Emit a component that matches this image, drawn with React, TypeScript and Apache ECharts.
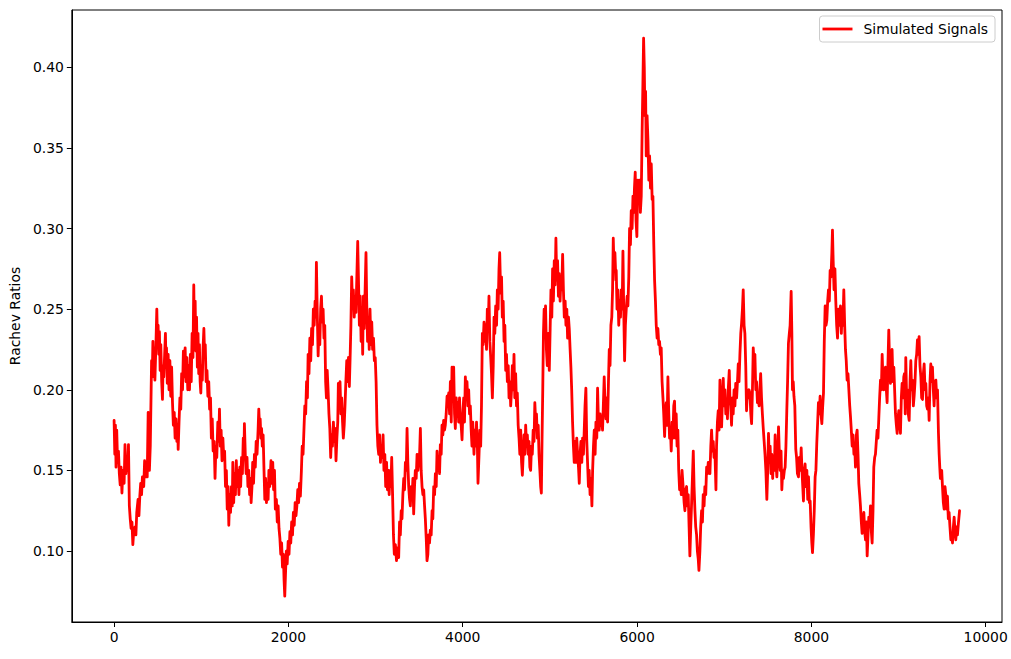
import React, { useEffect, useRef } from "react";
import * as echarts from "echarts";

const xTicks = [0, 2000, 4000, 6000, 8000, 10000];
const yTicks = [0.1, 0.15, 0.2, 0.25, 0.3, 0.35, 0.4];
const seriesName = "Simulated Signals";
const yAxisName = "Rachev Ratios";

const seg1: [number, number][] = [
  [0,0.181],[8,0.160],[15,0.178],[22,0.152],[30,0.175],[40,0.155],[50,0.162],[60,0.148],[70,0.141],[80,0.152],
  [90,0.136],[100,0.150],[115,0.142],[125,0.166],[135,0.148],[145,0.158],[155,0.150],[165,0.166],[175,0.128],[185,0.120],
  [195,0.114],[205,0.118],[215,0.104],[225,0.112],[240,0.115],[250,0.110],[260,0.124],[275,0.132],[285,0.122],[295,0.134],
  [305,0.142],[315,0.135],[325,0.146],[340,0.140],[350,0.156],[360,0.146],[370,0.155],[380,0.146],[391,0.186],[398,0.160],
  [405,0.150],[415,0.165],[425,0.200],[430,0.218],[438,0.208],[445,0.230],[452,0.214],[460,0.226],[468,0.206],[480,0.228],
  [490,0.250],[497,0.232],[505,0.240],[512,0.222],[520,0.236],[528,0.212],[536,0.228],[546,0.205],[555,0.194],[562,0.215],
  [570,0.208],[580,0.222],[589,0.235],[596,0.214],[601,0.226],[610,0.204],[620,0.222],[630,0.200],[640,0.218],[650,0.196],
  [660,0.214],[670,0.192],[680,0.178],[690,0.186],[700,0.170],[710,0.182],[720,0.168],[730,0.176],[735,0.163],[745,0.180],
  [755,0.195],[765,0.188],[775,0.210],[785,0.200],[795,0.224],
];
const seg2: [number, number][] = [
  [805,0.208],[815,0.226],[825,0.205],[835,0.220],[845,0.200],[855,0.215],[865,0.200],[875,0.222],[885,0.205],[895,0.235],
  [905,0.220],[914,0.265],[922,0.232],[930,0.255],[938,0.224],[946,0.245],[955,0.214],[963,0.235],[971,0.210],[979,0.228],
  [987,0.205],[995,0.198],[1003,0.215],[1012,0.206],[1020,0.225],[1030,0.238],[1038,0.222],[1046,0.228],[1056,0.205],[1066,0.212],
  [1076,0.196],[1086,0.205],[1096,0.188],[1106,0.195],[1116,0.170],[1126,0.182],[1136,0.162],[1148,0.168],[1158,0.145],[1168,0.165],
  [1178,0.158],[1190,0.180],[1200,0.168],[1209,0.188],[1218,0.165],[1228,0.175],[1238,0.156],[1248,0.170],[1258,0.158],[1268,0.162],
  [1278,0.140],[1288,0.150],[1298,0.126],[1308,0.140],[1316,0.116],[1326,0.135],[1336,0.124],[1346,0.140],[1356,0.128],[1362,0.155],
  [1372,0.130],[1382,0.148],[1392,0.135],[1402,0.156],[1412,0.140],[1422,0.150],[1432,0.135],[1442,0.152],[1452,0.140],[1462,0.158],
  [1472,0.148],[1482,0.170],[1490,0.160],[1495,0.179],[1505,0.160],[1515,0.148],[1525,0.158],[1535,0.140],[1545,0.150],[1555,0.135],
  [1565,0.145],[1572,0.130],
];
const seg3: [number, number][] = [
  [1582,0.140],[1590,0.155],[1600,0.142],[1610,0.160],[1620,0.152],[1630,0.168],[1640,0.160],[1652,0.175],[1660,0.188],[1668,0.178],
  [1676,0.182],[1684,0.170],[1692,0.176],[1700,0.165],[1710,0.172],[1720,0.150],[1729,0.132],[1738,0.145],[1748,0.130],[1758,0.142],
  [1767,0.132],[1776,0.150],[1786,0.140],[1800,0.156],[1810,0.142],[1820,0.155],[1830,0.138],[1840,0.150],[1850,0.126],[1862,0.132],
  [1872,0.118],[1882,0.128],[1892,0.114],[1902,0.108],[1912,0.098],[1922,0.105],[1932,0.090],[1942,0.098],[1950,0.082],[1958,0.072],
  [1966,0.085],[1976,0.100],[1986,0.092],[1997,0.106],[2007,0.098],[2017,0.112],[2027,0.105],[2037,0.118],[2047,0.110],[2057,0.124],
  [2067,0.116],[2077,0.130],[2087,0.122],[2097,0.128],[2107,0.138],[2117,0.130],[2127,0.142],[2137,0.134],[2149,0.150],[2158,0.165],
  [2168,0.160],[2178,0.175],[2188,0.190],[2198,0.185],[2208,0.205],[2218,0.195],[2226,0.222],[2236,0.210],[2246,0.232],[2256,0.218],
  [2266,0.238],[2276,0.228],[2286,0.250],[2296,0.240],[2306,0.255],[2314,0.245],[2321,0.279],[2330,0.250],[2341,0.221],[2350,0.238],
  [2360,0.228],[2370,0.250],[2379,0.258],[2388,0.242],[2398,0.250],[2408,0.232],[2417,0.240],[2427,0.205],[2436,0.195],[2445,0.212],
  [2455,0.200],
];
const seg4: [number, number][] = [
  [2465,0.185],[2475,0.176],[2485,0.158],[2495,0.172],[2505,0.165],[2516,0.180],[2526,0.168],[2536,0.176],[2546,0.156],[2556,0.170],
  [2566,0.180],[2573,0.204],[2582,0.195],[2592,0.205],[2602,0.185],[2611,0.195],[2621,0.180],[2630,0.170],[2640,0.178],[2649,0.190],
  [2659,0.205],[2669,0.218],[2679,0.205],[2689,0.220],[2699,0.202],[2707,0.218],[2717,0.240],[2726,0.270],[2736,0.252],[2745,0.262],
  [2755,0.245],[2765,0.258],[2775,0.248],[2785,0.270],[2795,0.292],[2805,0.265],[2814,0.240],[2824,0.258],[2834,0.230],[2844,0.250],
  [2852,0.222],[2860,0.258],[2870,0.238],[2880,0.262],[2890,0.285],[2898,0.255],[2908,0.230],[2917,0.245],[2927,0.225],[2936,0.250],
  [2946,0.228],[2956,0.242],[2966,0.225],[2976,0.232],[2986,0.218],[2996,0.220],[3006,0.205],[3016,0.178],[3026,0.165],[3036,0.160],
  [3046,0.172],[3056,0.155],[3066,0.165],[3076,0.158],[3086,0.172],[3096,0.150],[3106,0.160],[3116,0.140],[3126,0.155],[3136,0.138],
  [3146,0.150],[3156,0.135],[3166,0.150],[3176,0.140],[3185,0.158],[3195,0.135],
];
const seg5: [number, number][] = [
  [3205,0.110],[3215,0.098],[3227,0.104],[3240,0.094],[3252,0.102],[3265,0.096],[3275,0.118],[3284,0.110],[3294,0.125],[3303,0.120],
  [3313,0.135],[3323,0.145],[3332,0.138],[3342,0.155],[3352,0.150],[3361,0.176],[3370,0.155],[3380,0.140],[3390,0.132],[3399,0.128],
  [3409,0.140],[3418,0.132],[3428,0.145],[3437,0.123],[3447,0.140],[3456,0.150],[3466,0.145],[3476,0.160],[3486,0.150],[3495,0.155],
  [3505,0.160],[3514,0.176],[3523,0.150],[3533,0.140],[3543,0.135],[3552,0.138],[3562,0.128],[3571,0.120],[3581,0.108],[3590,0.094],
  [3600,0.098],[3609,0.110],[3619,0.105],[3628,0.113],[3638,0.110],[3648,0.125],[3657,0.120],[3667,0.140],[3677,0.135],[3686,0.148],
  [3696,0.140],[3705,0.162],[3715,0.150],[3724,0.158],[3734,0.148],[3743,0.166],[3753,0.160],[3762,0.178],[3772,0.172],[3781,0.181],
  [3791,0.175],[3800,0.178],[3810,0.185],[3820,0.196],[3830,0.190],[3839,0.198],[3849,0.185],[3858,0.205],[3868,0.180],[3877,0.214],
  [3887,0.195],[3896,0.214],[3906,0.185],[3915,0.176],[3925,0.195],[3934,0.185],[3944,0.192],[3953,0.180],[3963,0.195],[3972,0.182],
  [3982,0.178],[3992,0.169],[4001,0.185],[4011,0.195],[4020,0.180],[4030,0.208],[4040,0.195],[4049,0.205],[4059,0.190],[4068,0.200],
  [4078,0.185],[4087,0.190],[4097,0.175],[4106,0.165],
];
const seg6: [number, number][] = [
  [4115,0.180],[4129,0.160],[4139,0.175],[4149,0.165],[4158,0.180],[4168,0.165],[4175,0.142],[4187,0.160],[4196,0.175],[4206,0.165],
  [4215,0.190],[4225,0.235],[4234,0.228],[4244,0.242],[4254,0.230],[4263,0.240],[4273,0.225],[4282,0.250],[4291,0.236],[4301,0.258],
  [4311,0.230],[4321,0.220],[4330,0.210],[4340,0.195],[4350,0.215],[4359,0.245],[4368,0.235],[4378,0.252],[4388,0.240],[4397,0.262],
  [4406,0.250],[4416,0.275],[4424,0.285],[4435,0.260],[4445,0.270],[4454,0.245],[4464,0.255],[4474,0.230],[4483,0.240],[4493,0.212],
  [4502,0.222],[4512,0.205],[4522,0.215],[4531,0.195],[4541,0.205],[4550,0.190],[4560,0.200],[4569,0.215],[4579,0.200],[4588,0.222],
  [4597,0.195],[4607,0.210],[4617,0.190],[4626,0.198],[4636,0.178],[4646,0.170],[4655,0.160],[4665,0.175],[4675,0.155],[4684,0.147],
  [4694,0.160],[4703,0.172],[4713,0.160],[4722,0.178],[4732,0.165],[4741,0.172],[4751,0.160],[4760,0.168],[4770,0.152],[4779,0.150],
  [4789,0.165],[4798,0.160],[4808,0.175],[4818,0.168],[4827,0.192],[4837,0.180],[4846,0.185],[4856,0.170],[4866,0.178],[4875,0.160],
  [4885,0.150],[4894,0.140],[4902,0.136],[4910,0.170],[4918,0.200],[4926,0.235],[4934,0.250],[4942,0.240],
];
const seg7: [number, number][] = [
  [4950,0.252],[4960,0.225],[4970,0.215],[4980,0.235],[4993,0.212],[5003,0.238],[5012,0.262],[5022,0.245],[5031,0.275],[5040,0.255],
  [5050,0.280],[5060,0.265],[5069,0.294],[5078,0.268],[5088,0.280],[5098,0.258],[5107,0.272],[5117,0.255],[5126,0.268],[5136,0.262],
  [5146,0.284],[5155,0.262],[5165,0.245],[5175,0.255],[5184,0.240],[5194,0.250],[5203,0.232],[5213,0.245],[5222,0.238],[5232,0.225],
  [5241,0.214],[5250,0.200],[5260,0.180],[5270,0.165],[5279,0.155],[5289,0.168],[5299,0.155],[5308,0.170],[5318,0.160],[5328,0.152],
  [5337,0.142],[5346,0.160],[5356,0.168],[5366,0.155],[5375,0.170],[5385,0.160],[5394,0.175],[5403,0.190],[5413,0.201],[5422,0.170],
  [5432,0.155],[5442,0.140],[5451,0.150],[5461,0.135],[5471,0.145],[5482,0.128],[5490,0.150],[5500,0.165],[5509,0.175],[5519,0.160],
  [5528,0.180],[5538,0.170],[5547,0.201],[5557,0.180],[5566,0.175],[5576,0.185],[5585,0.178],[5595,0.182],[5604,0.175],[5613,0.190],
  [5623,0.208],[5633,0.190],[5643,0.182],[5652,0.195],[5662,0.180],[5672,0.205],[5681,0.225],[5690,0.215],[5700,0.240],[5710,0.245],
  [5719,0.262],[5727,0.294],[5736,0.275],[5746,0.285],[5757,0.268],
];
const seg8: [number, number][] = [
  [5761,0.274],[5770,0.250],[5780,0.262],[5790,0.240],[5800,0.255],[5810,0.245],[5819,0.262],[5829,0.250],[5838,0.286],[5847,0.250],
  [5857,0.218],[5866,0.240],[5876,0.250],[5886,0.258],[5895,0.252],[5905,0.270],[5914,0.300],[5924,0.290],[5933,0.311],[5943,0.300],
  [5953,0.320],[5962,0.310],[5970,0.325],[5979,0.335],[5988,0.305],[5998,0.295],[6008,0.330],[6018,0.318],[6029,0.330],[6038,0.310],
  [6048,0.320],[6058,0.360],[6067,0.390],[6075,0.418],[6083,0.400],[6090,0.370],[6098,0.385],[6105,0.345],[6115,0.370],[6125,0.355],
  [6135,0.330],[6144,0.345],[6154,0.325],[6163,0.340],[6173,0.318],[6182,0.320],[6192,0.290],[6201,0.268],[6211,0.255],[6220,0.240],
  [6230,0.232],[6239,0.238],[6249,0.228],[6258,0.230],[6268,0.222],[6277,0.226],[6287,0.205],[6297,0.195],[6306,0.185],[6316,0.171],
  [6325,0.185],[6335,0.192],[6344,0.178],[6354,0.208],[6364,0.185],[6373,0.170],[6383,0.175],[6392,0.162],[6402,0.180],[6411,0.170],
  [6421,0.190],[6430,0.193],[6440,0.170],[6449,0.185],[6459,0.165],[6468,0.175],[6478,0.150],[6488,0.138],[6497,0.145],[6507,0.135],
  [6516,0.150],[6526,0.142],
];
const seg9: [number, number][] = [
  [6540,0.130],[6549,0.125],[6558,0.138],[6568,0.140],[6578,0.128],[6587,0.135],[6597,0.115],[6606,0.097],[6616,0.115],[6626,0.130],
  [6635,0.145],[6645,0.162],[6654,0.140],[6664,0.125],[6673,0.115],[6683,0.110],[6692,0.100],[6702,0.095],[6710,0.088],[6721,0.100],
  [6730,0.115],[6740,0.125],[6750,0.118],[6759,0.135],[6769,0.128],[6778,0.140],[6788,0.135],[6798,0.152],[6808,0.148],[6817,0.155],
  [6827,0.150],[6836,0.148],[6846,0.165],[6855,0.175],[6865,0.162],[6874,0.168],[6883,0.158],[6893,0.162],[6905,0.138],[6912,0.165],
  [6922,0.180],[6931,0.187],[6941,0.175],[6951,0.206],[6960,0.190],[6970,0.177],[6980,0.195],[6989,0.207],[6998,0.190],[7008,0.200],
  [7018,0.185],[7027,0.194],[7037,0.182],[7046,0.200],[7058,0.212],[7065,0.195],[7075,0.190],[7084,0.178],[7094,0.195],[7103,0.185],
  [7113,0.200],[7123,0.190],[7132,0.204],[7142,0.195],[7152,0.205],[7161,0.216],[7170,0.205],[7180,0.222],[7190,0.235],[7199,0.241],
  [7209,0.250],[7218,0.262],[7228,0.240],[7237,0.235],[7247,0.215],[7256,0.187],[7266,0.200],[7275,0.195],[7285,0.200],[7295,0.198],
  [7305,0.185],[7314,0.179],[7324,0.200],[7333,0.226],[7343,0.215],[7352,0.222],[7362,0.200],[7371,0.205],[7381,0.192],[7390,0.195],
  [7400,0.190],[7409,0.200],
];
const seg10: [number, number][] = [
  [7418,0.210],[7428,0.195],[7438,0.185],[7448,0.176],[7458,0.168],[7468,0.160],[7478,0.150],[7489,0.132],[7499,0.150],[7508,0.173],
  [7518,0.155],[7527,0.165],[7537,0.148],[7546,0.160],[7556,0.145],[7565,0.158],[7575,0.150],[7584,0.172],[7594,0.155],[7604,0.146],
  [7614,0.160],[7623,0.177],[7633,0.160],[7642,0.150],[7652,0.162],[7661,0.138],[7671,0.150],[7680,0.145],[7690,0.150],[7699,0.152],
  [7708,0.165],[7718,0.187],[7727,0.205],[7737,0.229],[7747,0.235],[7756,0.240],[7768,0.261],[7776,0.235],[7783,0.200],[7792,0.205],
  [7800,0.196],[7810,0.190],[7821,0.163],[7830,0.158],[7840,0.148],[7852,0.146],[7862,0.158],[7872,0.150],[7883,0.164],[7892,0.150],
  [7901,0.140],[7909,0.131],[7919,0.150],[7928,0.154],[7938,0.140],[7948,0.150],[7958,0.132],[7967,0.146],[7977,0.130],[7986,0.131],
  [7996,0.115],[8005,0.105],[8013,0.099],[8023,0.110],[8033,0.125],[8043,0.146],[8052,0.150],[8062,0.167],[8072,0.180],[8081,0.192],
  [8091,0.185],[8100,0.196],[8110,0.185],[8120,0.179],[8130,0.190],[8139,0.198],[8148,0.230],[8158,0.252],[8168,0.240],[8177,0.243],
  [8187,0.255],[8196,0.262],[8206,0.255],[8215,0.274],[8225,0.270],[8235,0.285],[8242,0.299],
];
const seg11: [number, number][] = [
  [8250,0.280],[8260,0.262],[8270,0.275],[8280,0.255],[8290,0.240],[8300,0.232],[8310,0.250],[8320,0.240],[8334,0.252],[8344,0.235],
  [8353,0.250],[8362,0.240],[8372,0.262],[8382,0.240],[8391,0.225],[8400,0.218],[8410,0.206],[8420,0.210],[8430,0.200],[8440,0.190],
  [8449,0.183],[8458,0.175],[8468,0.165],[8478,0.172],[8488,0.160],[8497,0.165],[8506,0.152],[8516,0.172],[8525,0.175],[8535,0.160],
  [8544,0.142],[8554,0.135],[8563,0.128],[8573,0.118],[8582,0.111],[8592,0.120],[8602,0.124],[8612,0.112],[8621,0.107],[8631,0.118],
  [8640,0.097],[8650,0.110],[8659,0.121],[8669,0.115],[8678,0.128],[8688,0.112],[8697,0.105],[8707,0.125],[8716,0.152],[8726,0.158],
  [8735,0.160],[8745,0.168],[8754,0.175],[8764,0.170],[8774,0.183],[8783,0.195],[8793,0.206],[8803,0.200],[8812,0.222],[8822,0.205],
  [8831,0.200],[8840,0.210],[8850,0.214],[8860,0.200],[8869,0.192],[8878,0.215],[8888,0.237],[8898,0.215],[8907,0.204],[8917,0.220],
  [8926,0.225],[8936,0.205],[8946,0.214],[8955,0.200],[8965,0.185],[8975,0.178],[8984,0.173],[8994,0.182],[9003,0.187],[9013,0.180],
  [9022,0.173],[9032,0.195],[9041,0.204],[9051,0.195],[9060,0.208],[9068,0.210],
];
const seg12: [number, number][] = [
  [9077,0.185],[9083,0.220],[9093,0.195],[9103,0.200],[9112,0.185],[9122,0.181],[9132,0.205],[9141,0.218],[9150,0.200],[9160,0.206],
  [9170,0.190],[9179,0.196],[9189,0.205],[9198,0.218],[9208,0.222],[9217,0.231],[9227,0.222],[9236,0.233],[9246,0.215],[9256,0.208],
  [9265,0.195],[9275,0.194],[9285,0.210],[9294,0.216],[9304,0.200],[9313,0.204],[9323,0.190],[9332,0.188],[9342,0.195],[9351,0.181],
  [9361,0.205],[9370,0.216],[9380,0.205],[9389,0.214],[9399,0.200],[9408,0.190],[9418,0.205],[9428,0.206],[9438,0.195],[9447,0.200],
  [9458,0.173],[9466,0.160],[9473,0.152],[9480,0.145],[9485,0.146],[9495,0.150],[9504,0.140],[9514,0.130],[9523,0.126],[9533,0.140],
  [9542,0.135],[9552,0.126],[9561,0.134],[9571,0.120],[9580,0.124],[9590,0.115],[9600,0.107],[9610,0.110],[9619,0.105],[9629,0.115],
  [9638,0.121],[9648,0.112],[9657,0.107],[9667,0.115],[9676,0.110],[9688,0.118],[9700,0.125],
];

const signal = [...seg1, ...seg2, ...seg3, ...seg4, ...seg5, ...seg6, ...seg7, ...seg8, ...seg9, ...seg10, ...seg11, ...seg12];

const FONT = "DejaVu Sans";

export default function App() {
  const ref = useRef<HTMLDivElement>(null);
  useEffect(() => {
    if (!ref.current) return;
    const chart = echarts.init(ref.current, undefined, { renderer: "svg" });
    chart.setOption({
      animation: false,
      backgroundColor: "#ffffff",
      grid: {
        left: 70,
        top: 10,
        right: 9,
        bottom: 37,
        show: true,
        borderColor: "#000000",
        borderWidth: 1,
        backgroundColor: "transparent",
      },
      legend: {
        show: true,
        right: 16,
        top: 16,
        orient: "horizontal",
        padding: [6, 7, 6, 3],
        itemWidth: 30,
        itemHeight: 2.8,
        borderColor: "#cccccc",
        borderWidth: 1,
        borderRadius: 3,
        backgroundColor: "rgba(255,255,255,0.8)",
        textStyle: {
          fontFamily: FONT,
          fontSize: 13.9,
          lineHeight: 14,
          color: "#000000",
          padding: [0, 0, 0, 6],
        },
        data: [{ name: seriesName, icon: "rect", itemStyle: { color: "#ff0000" } }],
      },
      xAxis: {
        type: "value",
        min: -485,
        max: 10187,
        splitLine: { show: false },
        axisLine: { show: true, onZero: false, lineStyle: { color: "#000000", width: 1 } },
        axisTick: { show: true, length: 5, customValues: xTicks, lineStyle: { color: "#000000" } },
        axisLabel: {
          customValues: xTicks,
          color: "#000000",
          fontSize: 13.9,
          fontFamily: FONT,
          margin: 8,
          formatter: (v: number) => String(v),
        },
      },
      yAxis: {
        type: "value",
        min: 0.056,
        max: 0.4355,
        name: yAxisName,
        nameLocation: "middle",
        nameGap: 47,
        nameTextStyle: { fontFamily: FONT, fontSize: 13.9, color: "#000000" },
        splitLine: { show: false },
        axisLine: { show: true, onZero: false, lineStyle: { color: "#000000", width: 1 } },
        axisTick: { show: true, length: 5, customValues: yTicks, lineStyle: { color: "#000000" } },
        axisLabel: {
          customValues: yTicks,
          color: "#000000",
          fontSize: 13.9,
          fontFamily: FONT,
          margin: 8,
          formatter: (v: number) => v.toFixed(2),
        },
      },
      series: [
        {
          name: seriesName,
          type: "line",
          data: signal,
          symbol: "none",
          silent: true,
          lineStyle: { color: "#ff0000", width: 2.8, join: "round", cap: "round" },
          itemStyle: { color: "#ff0000" },
        },
      ],
    });
    return () => chart.dispose();
  }, []);
  return (
    <div
      ref={ref}
      style={{ position: "absolute", left: 0, top: 0, width: 1011, height: 659 }}
    />
  );
}
